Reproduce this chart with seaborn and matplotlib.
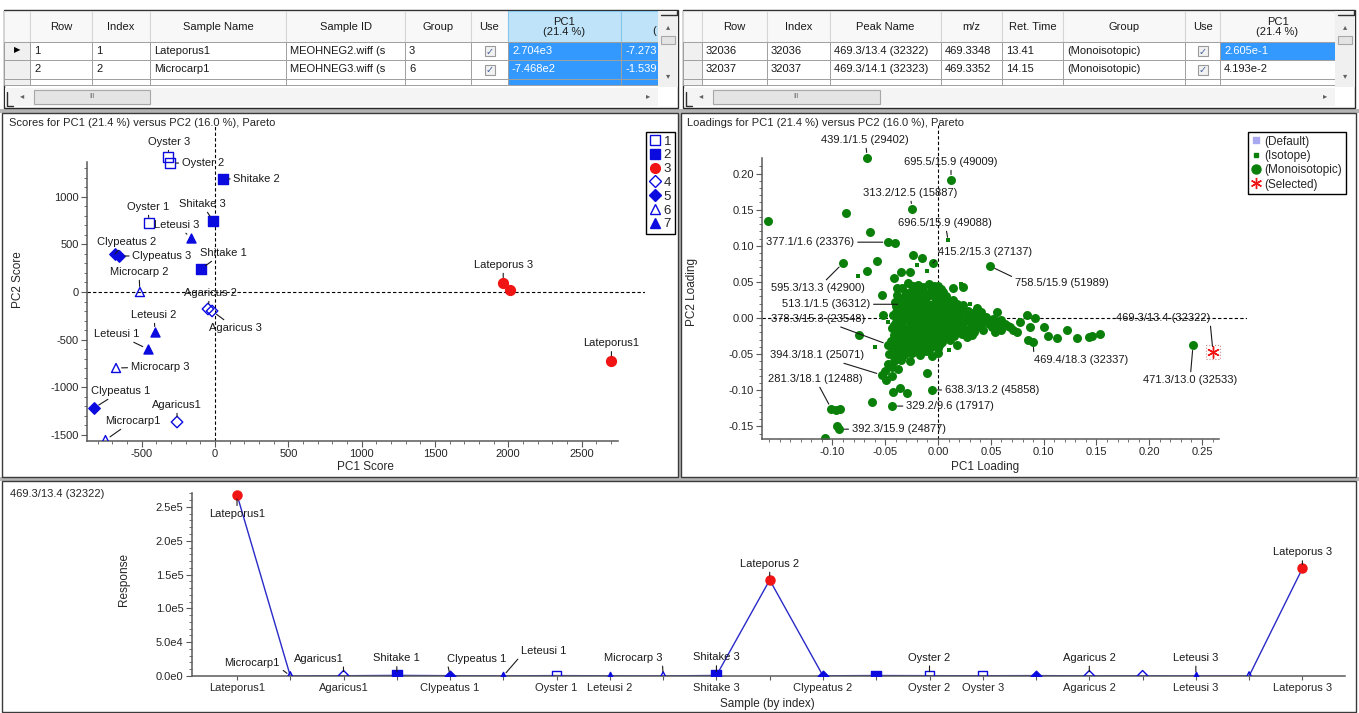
import matplotlib

matplotlib.use("Agg")
import matplotlib.pyplot as plt
import numpy as np
import pandas as pd
import seaborn as sns
from matplotlib.lines import Line2D
from matplotlib.patches import Rectangle
from matplotlib.ticker import FixedLocator, FuncFormatter

# ── samples, ordered by index ────────────────────────────────────────────────
sample_names = [
    "Lateporus1", "Microcarp1", "Agaricus1", "Shitake 1", "Clypeatus 1", "Leteusi 1",
    "Oyster 1", "Leteusi 2", "Microcarp 3", "Shitake 3", "Lateporus 2", "Clypeatus 2",
    "Shitake 2", "Oyster 2", "Oyster 3", "Clypeatus 3", "Agaricus 2", "Agaricus 3",
    "Leteusi 3", "Microcarp 2", "Lateporus 3",
]
sample_groups = [3, 6, 4, 2, 5, 7, 1, 7, 6, 2, 3, 5, 2, 1, 1, 5, 4, 4, 7, 6, 3]
pc1_scores = [2704, -747, -259, -96, -825, -459, -450, -409, -675, -13, 2012,
              -682, 53, -307, -320, -655, -48, -20, -164, -512, 1966]
pc2_scores = [-727, -1553, -1364, 241, -1217, -598, 724, -420, -797, 745, 21,
              399, 1186, 1353, 1416, 378, -178, -199, 567, 0, 94]
response = [268000, 150, 400, 900, 500, 200, 600, 300, 150, 800, 142000,
             300, 700, 500, 400, 600, 250, 300, 150, 100, 159000]
xtick_shown = [1, 3, 5, 7, 8, 10, 12, 14, 15, 17, 19, 21]

# ── loadings: labelled peaks ─────────────────────────────────────────────────
load_names = [
    "439.1/1.5 (29402)", "695.5/15.9 (49009)", "313.2/12.5 (15887)", "696.5/15.9 (49088)",
    "377.1/1.6 (23376)", "415.2/15.3 (27137)", "758.5/15.9 (51989)", "595.3/13.3 (42900)",
    "513.1/1.5 (36312)", "378.3/15.3 (23548)", "394.3/18.1 (25071)", "281.3/18.1 (12488)",
    "638.3/13.2 (45858)", "329.2/9.6 (17917)", "392.3/15.9 (24877)", "469.4/18.3 (32337)",
    "471.3/13.0 (32533)", "469.3/13.4 (32322)",
]
load_x = [-0.067, 0.0123, -0.0246, 0.0095, -0.047, -0.0047, 0.049, -0.090, -0.033,
          -0.047, -0.053, -0.101, -0.0057, -0.0436, -0.094, 0.090, 0.2415, 0.2604]
load_y = [0.2216, 0.191, 0.151, 0.108, 0.105, 0.076, 0.072, 0.076, 0.019,
          -0.037, -0.079, -0.126, -0.0997, -0.122, -0.154, -0.033, -0.0374, -0.047]
load_kind = ["Mono", "Mono", "Mono", "Iso", "Mono", "Mono", "Mono", "Mono", "Mono",
             "Mono", "Mono", "Mono", "Mono", "Mono", "Mono", "Mono", "Mono", "Selected"]

# other monoisotopic peaks
mono_points = [
    (-0.161, 0.134), (-0.087, 0.145), (-0.064, 0.119), (-0.041, 0.104), (-0.058, 0.079),
    (-0.067, 0.065), (-0.024, 0.087), (-0.015, 0.083), (-0.035, 0.064), (-0.027, 0.064),
    (-0.042, 0.055), (-0.039, 0.041), (-0.053, 0.032), (-0.052, 0.004), (-0.075, -0.024),
    (-0.041, -0.057), (-0.047, -0.064), (-0.049, -0.086), (-0.050, -0.073), (-0.044, -0.080),
    (-0.010, -0.076), (-0.0625, -0.116), (-0.036, -0.097), (-0.029, -0.104), (-0.043, -0.102),
    (-0.093, -0.126), (-0.097, -0.127), (-0.096, -0.150), (-0.107, -0.166),
    (0.000, -0.042), (0.000, -0.049), (0.014, 0.041), (0.024, 0.043), (0.037, 0.014),
    (0.056, 0.008), (0.054, -0.019), (0.071, -0.017), (0.040, -0.010), (0.027, -0.026),
    (0.018, -0.037), (0.084, 0.004), (0.092, 0.000), (0.087, -0.013), (0.100, -0.012),
    (0.104, -0.025), (0.113, -0.028), (0.122, -0.017), (0.132, -0.028), (0.143, -0.027),
    (0.146, -0.025), (0.153, -0.022), (0.085, -0.030), (0.078, -0.005), (0.075, -0.020),
    # dense core
    (-0.028, 0.049), (-0.019, 0.046), (-0.009, 0.047), (0.000, 0.044),
    (-0.034, 0.041), (-0.025, 0.039), (-0.016, 0.040), (-0.007, 0.038), (0.003, 0.040),
    (-0.039, 0.032), (-0.031, 0.030), (-0.023, 0.031), (-0.015, 0.029), (-0.008, 0.032),
    (0.000, 0.030), (0.008, 0.031),
    (-0.041, 0.022), (-0.034, 0.021), (-0.027, 0.023), (-0.020, 0.021), (-0.012, 0.022),
    (-0.005, 0.020), (0.003, 0.023), (0.011, 0.021), (0.018, 0.019),
    (-0.038, 0.012), (-0.031, 0.014), (-0.024, 0.013), (-0.017, 0.012), (-0.010, 0.014),
    (-0.003, 0.012), (0.004, 0.013), (0.012, 0.011), (0.020, 0.013), (0.028, 0.010),
    (-0.043, 0.004), (-0.036, 0.005), (-0.029, 0.003), (-0.022, 0.005), (-0.015, 0.004),
    (-0.008, 0.003), (-0.001, 0.005), (0.006, 0.004), (0.013, 0.003), (0.021, 0.005),
    (0.029, 0.002), (0.037, 0.004), (0.045, 0.001),
    (-0.040, -0.005), (-0.033, -0.004), (-0.026, -0.006), (-0.019, -0.004), (-0.012, -0.005),
    (-0.005, -0.006), (0.002, -0.004), (0.009, -0.005), (0.016, -0.006), (0.024, -0.004),
    (0.031, -0.006), (0.039, -0.005), (0.047, -0.007), (0.055, -0.004), (0.063, -0.008),
    (-0.044, -0.014), (-0.037, -0.013), (-0.030, -0.015), (-0.023, -0.013), (-0.016, -0.014),
    (-0.009, -0.015), (-0.002, -0.013), (0.005, -0.014), (0.012, -0.015), (0.019, -0.013),
    (0.027, -0.016), (0.035, -0.014), (0.043, -0.016), (0.051, -0.013), (0.060, -0.016),
    (0.068, -0.012),
    (-0.042, -0.023), (-0.035, -0.022), (-0.028, -0.024), (-0.021, -0.022), (-0.014, -0.023),
    (-0.007, -0.024), (0.000, -0.022), (0.007, -0.023), (0.015, -0.025), (0.023, -0.022),
    (0.032, -0.024),
    (-0.045, -0.032), (-0.038, -0.031), (-0.031, -0.033), (-0.024, -0.031), (-0.017, -0.032),
    (-0.010, -0.033), (-0.003, -0.031), (0.004, -0.033), (0.011, -0.030),
    (-0.043, -0.041), (-0.036, -0.040), (-0.029, -0.042), (-0.022, -0.040), (-0.015, -0.041),
    (-0.008, -0.042), (-0.001, -0.040),
    (-0.046, -0.050), (-0.039, -0.049), (-0.032, -0.051), (-0.025, -0.049), (-0.017, -0.051),
    (-0.006, -0.052), (-0.042, -0.059), (-0.035, -0.058), (-0.027, -0.060), (-0.044, -0.068),
    (-0.038, -0.071),
    # core, filling between the rows above
    (-0.024, 0.044), (-0.014, 0.043), (-0.004, 0.045),
    (-0.030, 0.035), (-0.021, 0.036), (-0.012, 0.034), (-0.003, 0.035), (0.005, 0.036),
    (-0.037, 0.026), (-0.028, 0.027), (-0.020, 0.025), (-0.011, 0.027), (-0.002, 0.026),
    (0.006, 0.027), (0.014, 0.025),
    (-0.040, 0.017), (-0.032, 0.018), (-0.024, 0.016), (-0.016, 0.017), (-0.008, 0.018),
    (0.000, 0.016), (0.008, 0.017), (0.016, 0.016), (0.024, 0.018),
    (-0.040, 0.008), (-0.032, 0.009), (-0.025, 0.007), (-0.018, 0.008), (-0.011, 0.009),
    (-0.004, 0.007), (0.003, 0.008), (0.010, 0.009), (0.017, 0.007), (0.025, 0.008),
    (0.033, 0.007), (0.041, 0.008),
    (-0.038, -0.001), (-0.030, 0.000), (-0.023, -0.002), (-0.016, -0.001), (-0.009, 0.000),
    (-0.002, -0.002), (0.005, -0.001), (0.012, 0.000), (0.020, -0.002), (0.028, -0.001),
    (0.036, 0.000), (0.044, -0.002), (0.052, -0.001), (0.060, -0.003),
    (-0.042, -0.010), (-0.035, -0.009), (-0.027, -0.011), (-0.020, -0.009), (-0.013, -0.010),
    (-0.006, -0.011), (0.001, -0.009), (0.008, -0.010), (0.016, -0.011), (0.024, -0.009),
    (0.032, -0.010), (0.040, -0.011), (0.049, -0.009), (0.057, -0.010), (0.066, -0.011),
    (-0.040, -0.019), (-0.032, -0.018), (-0.025, -0.020), (-0.018, -0.018), (-0.011, -0.019),
    (-0.004, -0.020), (0.003, -0.018), (0.010, -0.019), (0.018, -0.020), (0.026, -0.018),
    (0.034, -0.019),
    (-0.041, -0.028), (-0.034, -0.027), (-0.027, -0.029), (-0.020, -0.027), (-0.013, -0.028),
    (-0.006, -0.029), (0.001, -0.027), (0.008, -0.028),
    (-0.040, -0.037), (-0.033, -0.036), (-0.026, -0.038), (-0.019, -0.036), (-0.012, -0.037),
    (-0.005, -0.038), (0.002, -0.036),
    (-0.043, -0.046), (-0.035, -0.045), (-0.028, -0.047), (-0.021, -0.045), (-0.011, -0.046),
]
iso_points = [
    (-0.076, 0.058), (-0.010, 0.065), (0.022, 0.047), (-0.028, 0.036), (-0.047, -0.006),
    (0.030, 0.020), (-0.020, 0.073), (0.010, -0.045), (0.048, -0.004), (-0.060, -0.040),
]

# ── table text (as far as the cells show it) ─────────────────────────────────
left_headers = ["", "Row", "Index", "Sample Name", "Sample ID", "Group", "Use",
                "PC1\n(21.4 %)", ""]
left_rows = [
    ["▶", "1", "1", "Lateporus1", "MEOHNEG2.wiff (s", "3", "CHECK", "2.704e3", "-7.273"],
    ["", "2", "2", "Microcarp1", "MEOHNEG3.wiff (s", "6", "CHECK", "-7.468e2", "-1.539"],
]
right_headers = ["", "Row", "Index", "Peak Name", "m/z", "Ret. Time", "Group", "Use",
                 "PC1\n(21.4 %)"]
right_rows = [
    ["", "32036", "32036", "469.3/13.4 (32322)", "469.3348", "13.41", "(Monoisotopic)", "CHECK", "2.605e-1"],
    ["", "32037", "32037", "469.3/14.1 (32323)", "469.3352", "14.15", "(Monoisotopic)", "CHECK", "4.193e-2"],
]

# ── styling / layout ─────────────────────────────────────────────────────────
BLUE = "#0b0be0"
RED = "#f01414"
GREEN = "#0a800a"
LINE_BLUE = "#2a2ac8"
AXIS_GREY = "#5a5a5a"
GROUP_STYLE = {
    1: ("s", "none", BLUE), 2: ("s", BLUE, BLUE), 3: ("o", RED, RED),
    4: ("D", "none", BLUE), 5: ("D", BLUE, BLUE), 6: ("^", "none", BLUE), 7: ("^", BLUE, BLUE),
}
MARKER_S = {"s": 50, "o": 50, "D": 34, "^": 42}

score_offsets = {
    "Oyster 3": (1, 15), "Oyster 2": (33, 0), "Shitake 2": (34, 0), "Oyster 1": (-1, 16),
    "Shitake 3": (-11, 17), "Leteusi 3": (-14, 13), "Clypeatus 2": (12, 12),
    "Clypeatus 3": (43, 0), "Shitake 1": (22, 16), "Microcarp 2": (-1, 20),
    "Agaricus 2": (2, 16), "Agaricus 3": (23, -17), "Leteusi 2": (-1, 17),
    "Leteusi 1": (-31, 15), "Microcarp 3": (44, 1), "Clypeatus 1": (27, 17),
    "Agaricus1": (0, 17), "Microcarp1": (27, 19), "Lateporus 3": (0, 18), "Lateporus1": (0, 18),
}
load_offsets = [(-2, 18), (0, 18), (-2, 16), (-3, 17), (-78, 0), (52, 11), (72, -17),
                (-25, -25), (-77, 0), (-70, 26), (-65, 20), (-16, 30), (60, 0), (58, 0),
                (60, 0), (48, -18), (-3, -35), (-50, 34)]
load_relpos = {5: (0, 0), 6: (0, 1), 15: (0, 1), 17: (1, 0)}
resp_offsets = {
    "Lateporus1": ((0, -19), (0.5, 1)), "Microcarp1": ((-38, 13), (1, 0)),
    "Agaricus1": ((-25, 17), (1, 0)), "Shitake 1": ((0, 17), (0.5, 0)),
    "Clypeatus 1": ((27, 17), (0, 0)), "Leteusi 1": ((40, 25), (0, 0)),
    "Microcarp 3": ((-30, 18), (1, 0)), "Shitake 3": ((0, 18), (0.5, 0)),
    "Lateporus 2": ((0, 16), (0.5, 0)), "Oyster 2": ((0, 18), (0.5, 0)),
    "Agaricus 2": ((0, 18), (0.5, 0)), "Leteusi 3": ((0, 18), (0.5, 0)),
    "Lateporus 3": ((0, 16), (0.5, 0)),
}

sns.set_theme(style="ticks")
plt.rcParams["font.family"] = ["Liberation Sans", "DejaVu Sans"]
plt.rcParams["font.size"] = 8

W, H = 1359, 713
fig = plt.figure(figsize=(W / 100, H / 100), dpi=100)
fig.patch.set_facecolor("white")


def px_axes(l, t, r, b):
    ax = fig.add_axes([l / W, 1 - b / H, (r - l) / W, (b - t) / H])
    return ax


bg = px_axes(0, 0, W, H)
bg.set_xlim(0, W)
bg.set_ylim(H, 0)
bg.axis("off")
bg.set_zorder(0)

# ── window chrome: panel frames and splitters ────────────────────────────────
for x, y, w, h in [(0, 109, W, 4), (678, 113, 3, 365), (0, 477, W, 4)]:
    bg.add_patch(Rectangle((x, y), w, h, fc="#b4b4b4", ec="none"))
for x, y, w, h in [(2, 113, 676, 364), (681, 113, 675, 364), (2, 481, 1354, 231)]:
    bg.add_patch(Rectangle((x, y), w, h, fc="none", ec="#3a3a3a", lw=1.0))

# ── the two grid tables ──────────────────────────────────────────────────────
HEAD_T, HEAD_B = 10, 42
ROW_SPANS = [(42, 60), (60, 79)]
PART_B = 85
HS_T, HS_B = 88, 106


def clip_box(a, t, b, bt):
    return Rectangle((a, t), b - a, bt - t, transform=bg.transData)


def draw_table(edges, vis_right, scroll_right, headers, rows, head_hl, cell_hl, thumb):
    x0 = edges[0]
    bg.add_patch(Rectangle((x0, HEAD_T), scroll_right - x0, HS_B - HEAD_T + 2,
                           fc="white", ec="#2a2a2a", lw=1.0))
    for i, txt in enumerate(headers):
        a, b = edges[i], min(edges[i + 1], vis_right)
        fc = "#bfe3f8" if i in head_hl else "#f8f8f8"
        ec = "#86c6ee" if i in head_hl else "#d6d6d6"
        bg.add_patch(Rectangle((a, HEAD_T + 1), b - a, HEAD_B - HEAD_T - 1, fc=fc, ec=ec, lw=0.8))
        t = bg.text((edges[i] + edges[i + 1]) / 2, (HEAD_T + HEAD_B) / 2 + 1, txt,
                    ha="center", va="center", fontsize=8, linespacing=0.95, color="#1a1a1a",
                    clip_on=True)
        t.set_clip_path(clip_box(a, HEAD_T, b, HEAD_B))
    for r, (top, bot) in enumerate(ROW_SPANS + [(ROW_SPANS[-1][1], PART_B)]):
        for i in range(len(headers)):
            a, b = edges[i], min(edges[i + 1], vis_right)
            hl = (r, i) in cell_hl
            fc = "#3399ff" if hl else ("#f0f0f0" if i == 0 else "white")
            bg.add_patch(Rectangle((a, top), b - a, bot - top, fc=fc, ec="#a0a0a0", lw=0.7))
            if r >= len(rows):
                continue
            txt = rows[r][i]
            cy = (top + bot) / 2
            if txt == "CHECK":
                cx = (a + b) / 2
                bg.add_patch(Rectangle((cx - 5, cy - 5), 10, 10, fc="#f2f2f2", ec="#9a9a9a", lw=0.8))
                bg.text(cx, cy + 0.5, "✓", ha="center", va="center", fontsize=7, color="#40609a")
            elif i == 0:
                bg.text((a + b) / 2, cy, txt, ha="center", va="center", fontsize=6, color="black")
            else:
                t = bg.text(a + 4, cy, txt, ha="left", va="center", fontsize=8,
                            color="white" if hl else "#1a1a1a", clip_on=True)
                t.set_clip_path(clip_box(a, top, b - 1, bot))
    # horizontal scrollbar
    bg.add_patch(Rectangle((x0 + 1, HS_T), vis_right - x0 - 1, HS_B - HS_T, fc="#f4f4f4", ec="none"))
    bg.add_patch(Rectangle((thumb[0], HS_T + 2), thumb[1] - thumb[0], HS_B - HS_T - 4,
                           fc="#e4e4e4", ec="#a8a8a8", lw=0.8))
    bg.text((thumb[0] + thumb[1]) / 2, (HS_T + HS_B) / 2, "III", ha="center", va="center",
            fontsize=5, color="#707070")
    bg.text(x0 + 18, (HS_T + HS_B) / 2, "◂", ha="center", va="center", fontsize=6, color="#606060")
    bg.text(vis_right - 10, (HS_T + HS_B) / 2, "▸", ha="center", va="center", fontsize=6, color="#606060")
    bg.plot([x0 + 3, x0 + 3, x0 + 9], [HS_T + 4, HS_B, HS_B], color="#303030", lw=1.0)
    # vertical scrollbar
    bg.add_patch(Rectangle((vis_right, HEAD_T + 1), scroll_right - vis_right, HS_T - HEAD_T - 2,
                           fc="#f0f0f0", ec="none", zorder=3))
    cx = (vis_right + scroll_right) / 2
    bg.text(cx, 28, "▴", ha="center", va="center", fontsize=6, color="#606060", zorder=4)
    bg.add_patch(Rectangle((vis_right + 3, 36), scroll_right - vis_right - 6, 8,
                           fc="#e4e4e4", ec="#a8a8a8", lw=0.8, zorder=4))
    bg.text(cx, 77, "▾", ha="center", va="center", fontsize=6, color="#606060", zorder=4)
    bg.plot([vis_right + 3, scroll_right - 1, scroll_right - 1], [15, 15, 11], color="#303030",
            lw=1.0, zorder=4)


draw_table([4, 30, 92, 150, 286, 405, 471, 508, 621, 729], 658, 678, left_headers, left_rows,
           head_hl={7, 8}, cell_hl={(r, c) for r in range(3) for c in (7, 8)}, thumb=(34, 150))
# only the opening bracket of the cut-off PC2 header is visible
bg.text(652, 31, "(", ha="left", va="center", fontsize=8, color="#1a1a1a")
draw_table([683, 702, 767, 830, 941, 1002, 1063, 1185, 1220, 1335], 1335, 1355, right_headers,
           right_rows, head_hl=set(), cell_hl={(0, 8)}, thumb=(713, 880))

# ── panel titles and axis labels ─────────────────────────────────────────────
bg.text(9, 123, "Scores for PC1 (21.4 %) versus PC2 (16.0 %), Pareto", va="center", fontsize=8)
bg.text(687, 123, "Loadings for PC1 (21.4 %) versus PC2 (16.0 %), Pareto", va="center", fontsize=8)
bg.text(10, 494, "469.3/13.4 (32322)", va="center", fontsize=8)
bg.text(365, 467, "PC1 Score", ha="center", va="center", fontsize=8.5)
bg.text(18, 280, "PC2 Score", ha="center", va="center", rotation=90, fontsize=8.5)
bg.text(985, 467, "PC1 Loading", ha="center", va="center", fontsize=8.5)
bg.text(692, 292, "PC2 Loading", ha="center", va="center", rotation=90, fontsize=8.5)
bg.text(124, 580, "Response", ha="center", va="center", rotation=90, fontsize=8.5)
bg.text(767, 704, "Sample (by index)", ha="center", va="center", fontsize=8.5)


def style_axis(ax, xbounds, ybounds):
    ax.set_facecolor("none")
    ax.set_zorder(1)
    sns.despine(ax=ax)
    ax.spines["left"].set_bounds(*ybounds)
    ax.spines["bottom"].set_bounds(*xbounds)
    for s in ("left", "bottom"):
        ax.spines[s].set_color(AXIS_GREY)
        ax.spines[s].set_linewidth(1.1)
    ax.tick_params(which="major", length=4, width=0.8, color=AXIS_GREY, labelsize=8, pad=2)
    ax.tick_params(which="minor", length=2, width=0.6, color=AXIS_GREY)
    ax.set_xlabel("")
    ax.set_ylabel("")


def leader(ax, text, xy, off, relpos=(0.5, 0.5), shrink=4):
    ax.annotate(text, xy=xy, xytext=off, textcoords="offset pixels", ha="center", va="center",
                fontsize=8, color="#1a1a1a", zorder=5,
                arrowprops=dict(arrowstyle="-", color="#1a1a1a", lw=0.8, shrinkA=0,
                                shrinkB=shrink, relpos=relpos))


# ── scores plot ──────────────────────────────────────────────────────────────
scores = pd.DataFrame({"name": sample_names, "group": sample_groups,
                       "pc1": pc1_scores, "pc2": pc2_scores})
ax1 = px_axes(87, 125, 645, 441)
ax1.axhline(0, color="black", lw=0.8, ls=(0, (3, 2)), zorder=1)
ax1.axvline(0, color="black", lw=0.8, ls=(0, (3, 2)), zorder=1)
for g, sub in scores.groupby("group"):
    m, fc, ec = GROUP_STYLE[g]
    sns.scatterplot(data=sub, x="pc1", y="pc2", marker=m, s=MARKER_S[m], facecolor=fc,
                    edgecolor=ec, linewidth=1.0, ax=ax1, legend=False, zorder=3)
for row in scores.itertuples():
    if row.name in score_offsets:
        leader(ax1, row.name, (row.pc1, row.pc2), score_offsets[row.name])
ax1.set_xlim(-873, 2933)
ax1.set_ylim(-1563, 1752)
ax1.xaxis.set_major_locator(FixedLocator([-500, 0, 500, 1000, 1500, 2000, 2500]))
ax1.yaxis.set_major_locator(FixedLocator([-1500, -1000, -500, 0, 500, 1000]))
ax1.xaxis.set_minor_locator(FixedLocator(np.arange(-800, 2750, 100)))
ax1.yaxis.set_minor_locator(FixedLocator(np.arange(-1500, 1365, 100)))
ax1.xaxis.set_major_formatter(FuncFormatter(lambda v, _: f"{v:g}"))
ax1.yaxis.set_major_formatter(FuncFormatter(lambda v, _: f"{v:g}"))
style_axis(ax1, (-873, 2749), (-1563, 1364))

score_handles = [Line2D([], [], ls="", marker=GROUP_STYLE[g][0], mfc=GROUP_STYLE[g][1],
                        mec=GROUP_STYLE[g][2], ms=7 if GROUP_STYLE[g][0] != "D" else 6.5, mew=1.0)
                 for g in range(1, 8)]
leg1 = fig.legend(score_handles, [str(g) for g in range(1, 8)], loc="upper left",
                  bbox_to_anchor=(646 / W, 1 - 132 / H), fontsize=9.5, handlelength=0.8,
                  handletextpad=0.3, labelspacing=0.12, borderpad=0.25, borderaxespad=0,
                  fancybox=False, edgecolor="black", framealpha=1)
leg1.get_frame().set_linewidth(1.0)

# ── loadings plot ────────────────────────────────────────────────────────────
mono = pd.DataFrame(mono_points, columns=["x", "y"])
iso = pd.DataFrame(iso_points, columns=["x", "y"])
named = pd.DataFrame({"name": load_names, "x": load_x, "y": load_y, "kind": load_kind})
ax2 = px_axes(762, 125, 1247, 439)
ax2.axhline(0, color="black", lw=0.8, ls=(0, (3, 2)), zorder=1)
ax2.axvline(0, color="black", lw=0.8, ls=(0, (3, 2)), zorder=1)
mono_all = pd.concat([mono, named[named.kind == "Mono"][["x", "y"]]])
sns.scatterplot(data=mono_all, x="x", y="y", color=GREEN, s=42, linewidth=0, ax=ax2,
                legend=False, zorder=2)
iso_all = pd.concat([iso, named[named.kind == "Iso"][["x", "y"]]])
sns.scatterplot(data=iso_all, x="x", y="y", color=GREEN, marker="s", s=8, linewidth=0,
                ax=ax2, legend=False, zorder=2)
sel = named[named.kind == "Selected"]
sns.scatterplot(data=sel, x="x", y="y", color=RED, marker=(6, 2, 0), s=70, linewidth=1.0,
                ax=ax2, legend=False, zorder=4)
ax2.scatter(sel.x, sel.y, marker="s", s=110, facecolor="none", edgecolor="#c89090",
            linestyle=":", linewidth=0.8, zorder=4)
for i, row in enumerate(named.itertuples()):
    shrink = 2 if row.kind == "Iso" else 4
    leader(ax2, row.name, (row.x, row.y), load_offsets[i], load_relpos.get(i, (0.5, 0.5)), shrink)
ax2.set_xlim(-0.1667, 0.2926)
ax2.set_ylim(-0.1676, 0.2673)
ax2.xaxis.set_major_locator(FixedLocator([-0.10, -0.05, 0.0, 0.05, 0.10, 0.15, 0.20, 0.25]))
ax2.yaxis.set_major_locator(FixedLocator([-0.15, -0.10, -0.05, 0.0, 0.05, 0.10, 0.15, 0.20]))
ax2.xaxis.set_minor_locator(FixedLocator(np.arange(-0.16, 0.265, 0.01)))
ax2.yaxis.set_minor_locator(FixedLocator(np.arange(-0.16, 0.22, 0.01)))
fmt2 = FuncFormatter(lambda v, _: f"{v:.2f}".replace("-0.00", "0.00"))
ax2.xaxis.set_major_formatter(fmt2)
ax2.yaxis.set_major_formatter(fmt2)
style_axis(ax2, (-0.1667, 0.266), (-0.1676, 0.2216))

load_handles = [
    Line2D([], [], ls="", marker="s", mfc="#a9a9f2", mec="#a9a9f2", ms=5),
    Line2D([], [], ls="", marker="s", mfc=GREEN, mec=GREEN, ms=3),
    Line2D([], [], ls="", marker="o", mfc=GREEN, mec=GREEN, ms=6.5),
    Line2D([], [], ls="", marker=(6, 2, 0), color=RED, mec=RED, ms=8, mew=1.0),
]
leg2 = fig.legend(load_handles, ["(Default)", "(Isotope)", "(Monoisotopic)", "(Selected)"],
                  loc="upper left", bbox_to_anchor=(1248 / W, 1 - 132 / H), fontsize=8.5,
                  handlelength=0.8, handletextpad=0.3, labelspacing=0.2, borderpad=0.3,
                  borderaxespad=0, fancybox=False, edgecolor="black", framealpha=1)
leg2.get_frame().set_linewidth(1.0)

# ── response profile ─────────────────────────────────────────────────────────
profile = pd.DataFrame({"idx": np.arange(1, len(sample_names) + 1), "name": sample_names,
                        "group": sample_groups, "resp": response})
ax3 = px_axes(192, 486, 1345, 676)
sns.lineplot(data=profile, x="idx", y="resp", color=LINE_BLUE, lw=1.0, estimator=None,
             ax=ax3, zorder=2)
for g, sub in profile.groupby("group"):
    m, fc, ec = GROUP_STYLE[g]
    sns.scatterplot(data=sub, x="idx", y="resp", marker=m, s=MARKER_S[m] * 0.85, facecolor=fc,
                    edgecolor=ec, linewidth=1.0, ax=ax3, legend=False, zorder=3)
for row in profile.itertuples():
    if row.name in resp_offsets:
        off, rp = resp_offsets[row.name]
        leader(ax3, row.name, (row.idx, row.resp), off, rp, shrink=3)
ax3.set_xlim(0.155, 21.8)
ax3.set_ylim(0, 2.81e5)
ax3.xaxis.set_major_locator(FixedLocator(profile.idx))
ax3.set_xticklabels([n if i in xtick_shown else "" for i, n in zip(profile.idx, profile.name)])
ax3.yaxis.set_major_locator(FixedLocator([0, 5e4, 1e5, 1.5e5, 2e5, 2.5e5]))
ax3.yaxis.set_minor_locator(FixedLocator(np.arange(0, 2.71e5, 1e4)))


def sci(v, _):
    if v == 0:
        return "0.0e0"
    e = int(np.floor(np.log10(abs(v))))
    return f"{v / 10 ** e:.1f}e{e}"


ax3.yaxis.set_major_formatter(FuncFormatter(sci))
style_axis(ax3, (0.155, 21.8), (0, 2.7e5))
ax3.tick_params(axis="x", which="major", length=3)

fig.savefig("out.png", dpi=100)
